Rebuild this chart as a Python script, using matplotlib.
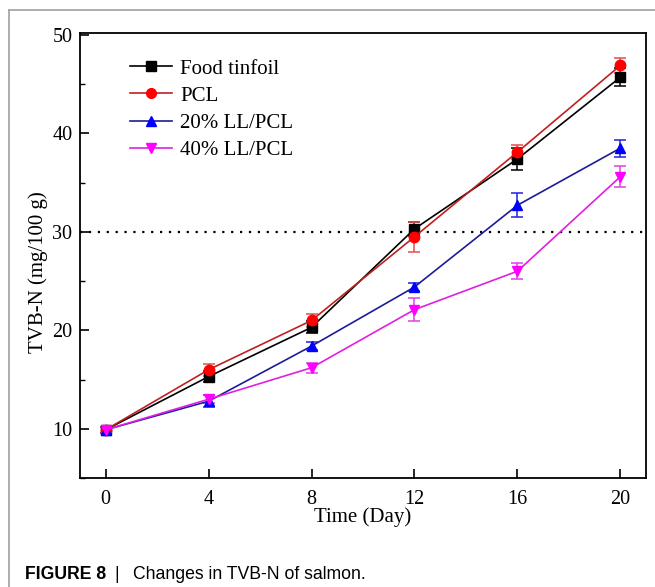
import matplotlib
matplotlib.use("Agg")
import matplotlib.pyplot as plt
from matplotlib.ticker import MultipleLocator
from matplotlib.lines import Line2D

days = [0, 4, 8, 12, 16, 20]
food_tinfoil = [9.9, 15.3, 20.3, 30.3, 37.4, 45.7]
food_tinfoil_err = [0.3, 0.6, 0.6, 0.7, 1.1, 0.9]
pcl = [9.9, 16.0, 21.0, 29.5, 38.1, 46.9]
pcl_err = [0.3, 0.6, 0.7, 1.5, 0.7, 0.8]
ll20 = [9.9, 12.8, 18.4, 24.4, 32.7, 38.5]
ll20_err = [0.3, 0.6, 0.4, 0.4, 1.2, 0.85]
ll40 = [9.9, 13.0, 16.2, 22.1, 26.0, 35.6]
ll40_err = [0.3, 0.4, 0.5, 1.2, 0.8, 1.05]
labels = ["Food tinfoil", "PCL", "20% LL/PCL", "40% LL/PCL"]
limit_value = 30

plt.rcParams['font.family'] = ['Liberation Serif', 'DejaVu Serif']

fig = plt.figure(figsize=(6.55, 5.87), dpi=100)
ax = fig.add_axes([0.1221, 0.1857, 0.8642, 0.7581])

series = [
    (food_tinfoil, food_tinfoil_err, 's', 'black', 'black', 'black'),
    (pcl, pcl_err, 'o', '#C02020', '#FF0000', '#E05050'),
    (ll20, ll20_err, '^', '#1C1C9A', '#0000FF', '#2020E0'),
    (ll40, ll40_err, 'v', '#E020E0', '#FF00FF', '#E040E0'),
]

handles = []
for (vals, errs, mk, lc, mc, ec), lab in zip(series, labels):
    ax.errorbar(days, vals, yerr=errs, fmt='none', ecolor=ec, elinewidth=1.1,
                capsize=4, capthick=1.1, zorder=2)
    ax.plot(days, vals, color=lc, lw=1.2, marker=mk, markersize=7.5,
            markerfacecolor=mc, markeredgecolor=mc, zorder=3)
    handles.append(Line2D([0], [0], color=lc, lw=1.2, marker=mk, markersize=7,
                          markerfacecolor=mc, markeredgecolor=mc))

ax.axhline(limit_value, color='black', lw=1.6, linestyle=(0, (1, 3)), zorder=1)

ax.set_xlim(-1, 21)
ax.set_ylim(5, 50.2)
ax.set_xticks(days)
ax.yaxis.set_major_locator(MultipleLocator(10))
ax.yaxis.set_minor_locator(MultipleLocator(5))
ax.set_yticks([10, 20, 30, 40, 50])
ax.tick_params(axis='both', which='major', direction='in', length=6.5, width=1.2,
               labelsize=14.5, top=False, right=False)
ax.tick_params(axis='x', which='major', pad=8.5)
ax.tick_params(axis='y', which='major', pad=5.5)
ax.tick_params(axis='y', which='minor', direction='in', length=3.5, width=1.0,
               left=True, right=False)
ax.tick_params(axis='x', which='minor', bottom=False, top=False)
for sp in ax.spines.values():
    sp.set_linewidth(1.3)

ax.set_xlabel('Time (Day)', fontsize=15, labelpad=-1)
ax.set_ylabel('TVB-N (mg/100 g)', fontsize=15)
ax.yaxis.set_label_coords(-0.057, 0.463)

leg = ax.legend(handles, labels, loc='upper left', bbox_to_anchor=(0.074, 0.96),
                frameon=False, fontsize=15, handlelength=2.0, handletextpad=0.4,
                labelspacing=0.36, borderaxespad=0)

# figure border (left and top)
fig.add_artist(Line2D([9/655, 9/655], [0, 1 - 10/587], color='#a0a0a0', lw=1.2,
                      transform=fig.transFigure))
fig.add_artist(Line2D([9/655, 1], [1 - 10/587, 1 - 10/587], color='#a0a0a0', lw=1.2,
                      transform=fig.transFigure))

cap_font = ['Liberation Sans', 'DejaVu Sans']
fig.text(25/655, 1 - 579/587, 'FIGURE 8', fontsize=12.7, fontweight='bold',
         family=cap_font, va='baseline', ha='left')
fig.text(114/655, 1 - 579/587, '|', fontsize=12.7, family=cap_font,
         va='baseline', ha='left')
fig.text(133/655, 1 - 579/587, 'Changes in TVB-N of salmon.', fontsize=12.7,
         family=cap_font, va='baseline', ha='left')

fig.savefig('out.png', dpi=100)
